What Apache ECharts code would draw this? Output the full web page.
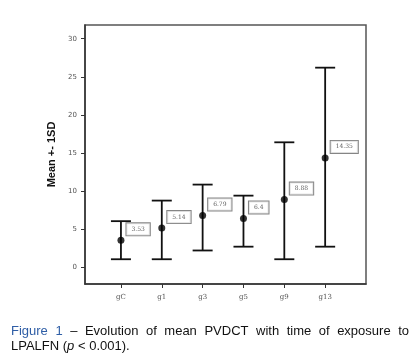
<!DOCTYPE html>
<html><head><meta charset="utf-8">
<script src="https://cdn.jsdelivr.net/npm/echarts@6/dist/echarts.min.js"></script>
<style>html,body{margin:0;padding:0;background:#fff}#c{width:420px;height:363px}</style>
</head><body><div id="c"></div>
<script>
const categories = ['gC', 'g1', 'g3', 'g5', 'g9', 'g13'];
const means = [3.53, 5.14, 6.79, 6.4, 8.88, 14.35];
const upperSD = [6.05, 8.75, 10.85, 9.4, 16.4, 26.2];
const lowerSD = [1.05, 1.05, 2.2, 2.7, 1.05, 2.7];
const yTicks = [0, 5, 10, 15, 20, 25, 30];
const yTitle = 'Mean +- 1SD';
const captionLine1 = ['Figure', '1', '–', 'Evolution', 'of', 'mean', 'PVDCT', 'with', 'time', 'of', 'exposure', 'to'];

const chart = echarts.init(document.getElementById('c'), null, {renderer: 'canvas'});
const xIdx = categories.map((_, i) => i);

// caption justification
const FONT = '13px "Liberation Sans", Arial, sans-serif';
const cv = document.createElement('canvas').getContext('2d');
cv.font = FONT;
const L = 11, R = 409;
const widths = captionLine1.map(w => cv.measureText(w).width);
const total = widths.reduce((a, b) => a + b, 0);
const gap = (R - L - total) / (captionLine1.length - 1);
const capEls = [];
let cx = L;
captionLine1.forEach((w, i) => {
  capEls.push({type: 'text', left: cx, top: 325, style: {text: w, font: FONT, fill: i < 2 ? '#2f5ea6' : '#111'}});
  cx += widths[i] + gap;
});
capEls.push({type: 'text', left: L, top: 340, style: {
  text: '{a|LPALFN (}{i|p}{a| < 0.001).}',
  rich: {a: {font: FONT, fill: '#111'}, i: {font: 'italic ' + FONT, fill: '#111'}}
}});

chart.setOption({
  animation: false,
  grid: {left: 85, top: 25, right: 54, bottom: 79, show: true, borderColor: '#555', borderWidth: 1.5, backgroundColor: 'transparent'},
  xAxis: {
    type: 'value', min: -0.88, max: 6.0,
    axisLine: {show: true, onZero: false, lineStyle: {color: '#333', width: 1.5}},
    splitLine: {show: false},
    axisTick: {show: true, length: 4, customValues: xIdx, lineStyle: {color: '#333', width: 1}},
    axisLabel: {customValues: xIdx, formatter: v => categories[Math.round(v)], fontSize: 7, color: '#555', margin: 10, fontFamily: 'DejaVu Serif'}
  },
  yAxis: {
    type: 'value', min: -2.2, max: 31.8,
    name: yTitle, nameLocation: 'middle', nameGap: 22,
    nameTextStyle: {fontSize: 11, fontWeight: 'bold', color: '#111', fontFamily: '"Liberation Sans", Arial'},
    axisLine: {show: true, onZero: false, lineStyle: {color: '#333', width: 1.5}},
    splitLine: {show: false},
    axisTick: {show: true, length: 4, customValues: yTicks, lineStyle: {color: '#333', width: 1}},
    axisLabel: {customValues: yTicks, fontSize: 7, color: '#555', margin: 8, fontFamily: 'DejaVu Sans'}
  },
  series: [
    {
      type: 'custom',
      data: xIdx.map(i => [i, lowerSD[i], upperSD[i]]),
      renderItem: (params, api) => {
        const x = api.value(0);
        const lo = api.coord([x, api.value(1)]);
        const hi = api.coord([x, api.value(2)]);
        const hw = 10;
        const st = {stroke: '#111', lineWidth: 1.8};
        return {type: 'group', children: [
          {type: 'line', shape: {x1: lo[0], y1: lo[1], x2: hi[0], y2: hi[1]}, style: st},
          {type: 'line', shape: {x1: hi[0] - hw, y1: hi[1], x2: hi[0] + hw, y2: hi[1]}, style: st},
          {type: 'line', shape: {x1: lo[0] - hw, y1: lo[1], x2: lo[0] + hw, y2: lo[1]}, style: st}
        ]};
      },
      z: 2
    },
    {
      type: 'scatter',
      data: xIdx.map(i => [i, means[i]]),
      symbol: 'circle', symbolSize: 7,
      itemStyle: {color: '#000'},
      z: 3,
      label: {
        show: true, position: 'right', distance: 2, offset: [0, -11],
        formatter: p => String(means[p.dataIndex]),
        fontSize: 6, color: '#333', fontFamily: 'DejaVu Serif',
        backgroundColor: '#fff', borderColor: '#666', borderWidth: 1,
        padding: [3, 5]
      }
    }
  ],
  graphic: capEls
});
</script></body></html>
